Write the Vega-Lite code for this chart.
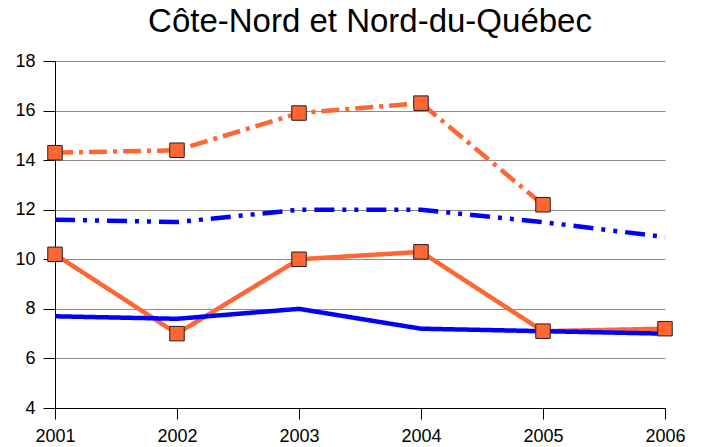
{
  "$schema": "https://vega.github.io/schema/vega-lite/v6.json",
  "width": 610,
  "height": 347,
  "autosize": "none",
  "padding": {"left": 55, "top": 61, "right": 37, "bottom": 39},
  "background": "white",
  "title": {
    "text": "Côte-Nord et Nord-du-Québec",
    "font": "Liberation Sans",
    "fontSize": 33,
    "fontWeight": "normal",
    "color": "black",
    "anchor": "middle",
    "frame": "group",
    "dx": 10,
    "offset": 13
  },
  "config": {
    "view": {"stroke": null},
    "axis": {
      "labelFont": "Liberation Sans",
      "labelFontSize": 18,
      "labelColor": "black",
      "domainColor": "black",
      "tickColor": "black",
      "gridColor": "#8c8c8c",
      "gridWidth": 1.2
    }
  },
  "data": {
    "values": [
      {"year": 2001, "series": "A", "value": 14.3},
      {"year": 2002, "series": "A", "value": 14.4},
      {"year": 2003, "series": "A", "value": 15.9},
      {"year": 2004, "series": "A", "value": 16.3},
      {"year": 2005, "series": "A", "value": 12.2},
      {"year": 2001, "series": "B", "value": 11.6},
      {"year": 2002, "series": "B", "value": 11.5},
      {"year": 2003, "series": "B", "value": 12.0},
      {"year": 2004, "series": "B", "value": 12.0},
      {"year": 2005, "series": "B", "value": 11.5},
      {"year": 2006, "series": "B", "value": 10.9},
      {"year": 2001, "series": "C", "value": 10.2},
      {"year": 2002, "series": "C", "value": 7.0},
      {"year": 2003, "series": "C", "value": 10.0},
      {"year": 2004, "series": "C", "value": 10.3},
      {"year": 2005, "series": "C", "value": 7.1},
      {"year": 2006, "series": "C", "value": 7.2},
      {"year": 2001, "series": "D", "value": 7.7},
      {"year": 2002, "series": "D", "value": 7.6},
      {"year": 2003, "series": "D", "value": 8.0},
      {"year": 2004, "series": "D", "value": 7.2},
      {"year": 2005, "series": "D", "value": 7.1},
      {"year": 2006, "series": "D", "value": 7.0}
    ]
  },
  "encoding": {
    "x": {
      "field": "year",
      "type": "quantitative",
      "scale": {"domain": [2001, 2006], "nice": false, "zero": false},
      "axis": {
        "values": [2001, 2002, 2003, 2004, 2005, 2006],
        "format": "d",
        "grid": false,
        "tickSize": 11,
        "labelPadding": 8,
        "title": null,
        "labelFlush": false
      }
    },
    "y": {
      "field": "value",
      "type": "quantitative",
      "scale": {"domain": [4, 18], "nice": false, "zero": false},
      "axis": {
        "values": [4, 6, 8, 10, 12, 14, 16, 18],
        "grid": true,
        "tickSize": 12,
        "labelPadding": 8,
        "title": null,
        "domain": true
      }
    }
  },
  "layer": [
    {
      "mark": {"type": "line", "strokeWidth": 4.5},
      "encoding": {
        "detail": {"field": "series"},
        "color": {
          "field": "series",
          "type": "nominal",
          "scale": {"domain": ["A", "B", "C", "D"], "range": ["#FF6633", "#0000FF", "#FF6633", "#0000FF"]},
          "legend": null
        },
        "strokeDash": {
          "field": "series",
          "type": "nominal",
          "scale": {"domain": ["A", "B", "C", "D"], "range": [[18, 6, 4, 6], [20, 8, 4, 8, 4, 8], [1, 0], [1, 0]]},
          "legend": null
        }
      }
    },
    {
      "transform": [{"filter": "datum.series === 'A' || datum.series === 'C'"}],
      "mark": {"type": "point", "shape": "square", "filled": true, "size": 210, "fill": "#FF6633", "stroke": "#222222", "strokeWidth": 1, "opacity": 1}
    }
  ]
}
